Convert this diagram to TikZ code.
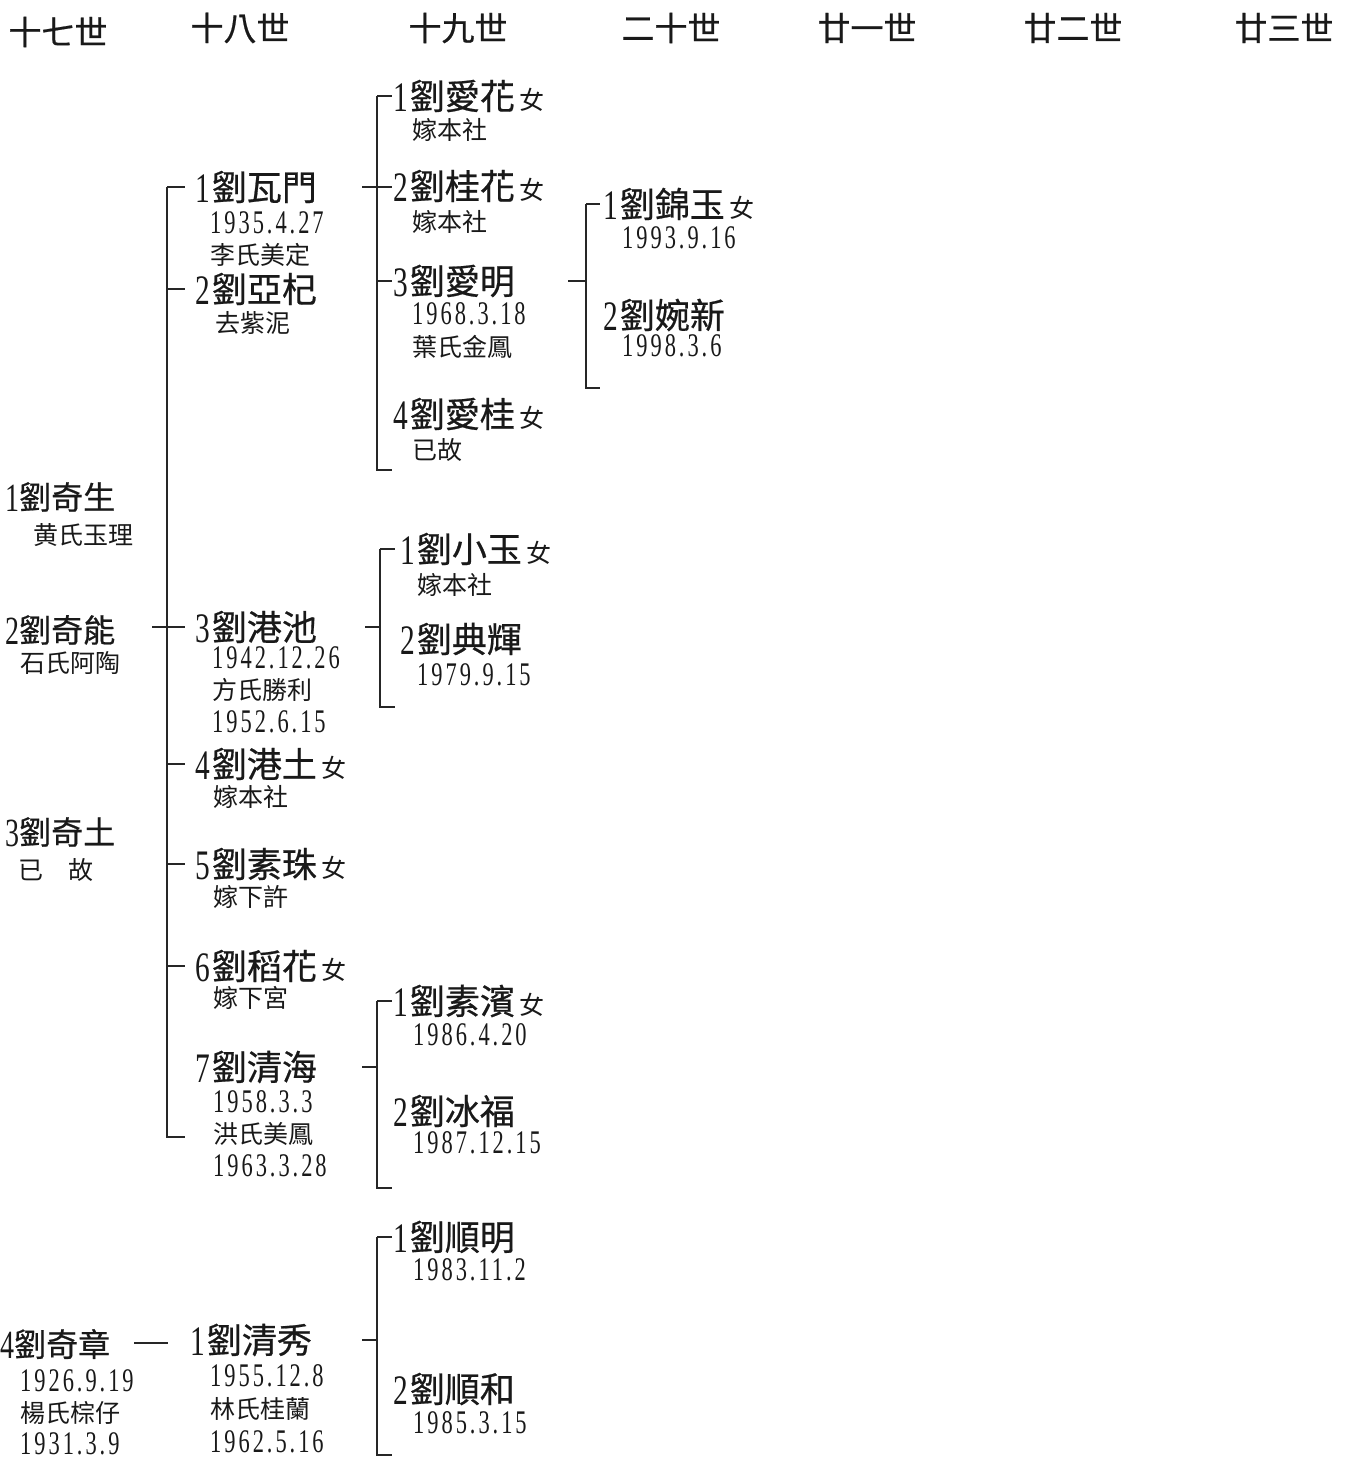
\documentclass[tikz,border=0pt]{standalone}
\usepackage{fontspec}
\usetikzlibrary{calc}
\newfontfamily\cjk{Noto Sans CJK TC}
\newfontfamily\cjkb[FakeBold=0.6]{Noto Sans CJK TC}
\newfontfamily\numf[FakeStretch=0.7]{Liberation Serif}
\newfontfamily\datef[FakeStretch=0.68,LetterSpace=9]{Liberation Serif}
\newcommand\ghead[1]{{\cjkb\fontsize{33}{33}\selectfont #1}}
\newcommand\pname[2]{{\numf\fontsize{42}{42}\selectfont\raisebox{-2pt}{#1}}\hspace{2pt}{\cjkb\fontsize{35}{35}\selectfont #2}}
\newcommand\pnameS[2]{{\numf\fontsize{40}{40}\selectfont\raisebox{-2pt}{#1}}{\cjkb\fontsize{32}{32}\selectfont #2}}
\newcommand\fem{\hspace{5pt}{\cjk\fontsize{25}{25}\selectfont 女}}
\newcommand\subtx[1]{{\cjk\fontsize{25}{25}\selectfont #1}}
\newcommand\pdate[1]{{\datef\fontsize{33}{33}\selectfont #1}}
\tikzset{
  tx/.style={inner sep=0pt, anchor=west, text=black!90},
  hd/.style={inner sep=0pt, anchor=center, text=black!90},
  ln/.style={line width=1.6pt, draw=black!85}
}
\begin{document}
\begin{tikzpicture}[x=1pt,y=-1pt]
\useasboundingbox[fill=white] (0,0) rectangle (1354,1460);
% headers
\node[hd] (h17) at (58,32) {\ghead{十七世}};
\node[hd] (h18) at (240,28) {\ghead{十八世}};
\node[hd] (h19) at (458,28) {\ghead{十九世}};
\node[hd] (h20) at (671,28) {\ghead{二十世}};
\node[hd] (h21) at (867,28) {\ghead{廿一世}};
\node[hd] (h22) at (1073,28) {\ghead{廿二世}};
\node[hd] (h23) at (1284,28) {\ghead{廿三世}};
% generation 17
\node[tx] (a1) at (5,497) {\pnameS{1}{劉奇生}};
\node[tx] (a1s) at (33,535) {\subtx{黄氏玉理}};
\node[tx] (a2) at (5,630) {\pnameS{2}{劉奇能}};
\node[tx] (a2s) at (20,663) {\subtx{石氏阿陶}};
\node[tx] (a3) at (5,832) {\pnameS{3}{劉奇土}};
\node[tx] (a3s) at (18,870) {\subtx{已　故}};
\node[tx] (a4) at (0,1344) {\pnameS{4}{劉奇章}};
\node[tx] (a4d) at (20,1381) {\pdate{1926.9.19}};
\node[tx] (a4s) at (20,1413) {\subtx{楊氏棕仔}};
\node[tx] (a4e) at (20,1444) {\pdate{1931.3.9}};
% generation 18
\node[tx] (b1) at (195,187) {\pname{1}{劉瓦門}};
\node[tx] (b1d) at (210,223) {\pdate{1935.4.27}};
\node[tx] (b1s) at (210,255) {\subtx{李氏美定}};
\node[tx] (b2) at (195,289) {\pname{2}{劉亞杞}};
\node[tx] (b2s) at (215,323) {\subtx{去紫泥}};
\node[tx] (b3) at (195,627) {\pname{3}{劉港池}};
\node[tx] (b3d) at (212,658) {\pdate{1942.12.26}};
\node[tx] (b3s) at (212,690) {\subtx{方氏勝利}};
\node[tx] (b3e) at (212,722) {\pdate{1952.6.15}};
\node[tx] (b4) at (195,764) {\pname{4}{劉港土}\fem};
\node[tx] (b4s) at (213,797) {\subtx{嫁本社}};
\node[tx] (b5) at (195,864) {\pname{5}{劉素珠}\fem};
\node[tx] (b5s) at (213,897) {\subtx{嫁下許}};
\node[tx] (b6) at (195,966) {\pname{6}{劉稻花}\fem};
\node[tx] (b6s) at (213,998) {\subtx{嫁下宮}};
\node[tx] (b7) at (195,1067) {\pname{7}{劉清海}};
\node[tx] (b7d) at (213,1102) {\pdate{1958.3.3}};
\node[tx] (b7s) at (213,1134) {\subtx{洪氏美鳳}};
\node[tx] (b7e) at (213,1166) {\pdate{1963.3.28}};
\node[tx] (c1) at (190,1340) {\pname{1}{劉清秀}};
\node[tx] (c1d) at (210,1376) {\pdate{1955.12.8}};
\node[tx] (c1s) at (210,1409) {\subtx{林氏桂蘭}};
\node[tx] (c1e) at (210,1442) {\pdate{1962.5.16}};
% generation 19
\node[tx] (d1) at (393,96) {\pname{1}{劉愛花}\fem};
\node[tx] (d1s) at (412,130) {\subtx{嫁本社}};
\node[tx] (d2) at (393,186) {\pname{2}{劉桂花}\fem};
\node[tx] (d2s) at (412,222) {\subtx{嫁本社}};
\node[tx] (d3) at (393,281) {\pname{3}{劉愛明}};
\node[tx] (d3d) at (412,314) {\pdate{1968.3.18}};
\node[tx] (d3s) at (412,347) {\subtx{葉氏金鳳}};
\node[tx] (d4) at (393,414) {\pname{4}{劉愛桂}\fem};
\node[tx] (d4s) at (412,450) {\subtx{已故}};
\node[tx] (e1) at (400,549) {\pname{1}{劉小玉}\fem};
\node[tx] (e1s) at (417,585) {\subtx{嫁本社}};
\node[tx] (e2) at (400,639) {\pname{2}{劉典輝}};
\node[tx] (e2d) at (417,675) {\pdate{1979.9.15}};
\node[tx] (f1) at (393,1001) {\pname{1}{劉素濱}\fem};
\node[tx] (f1d) at (413,1035) {\pdate{1986.4.20}};
\node[tx] (f2) at (393,1111) {\pname{2}{劉冰福}};
\node[tx] (f2d) at (413,1143) {\pdate{1987.12.15}};
\node[tx] (g1) at (393,1237) {\pname{1}{劉順明}};
\node[tx] (g1d) at (413,1270) {\pdate{1983.11.2}};
\node[tx] (g2) at (393,1389) {\pname{2}{劉順和}};
\node[tx] (g2d) at (413,1423) {\pdate{1985.3.15}};
% generation 20
\node[tx] (k1) at (603,204) {\pname{1}{劉錦玉}\fem};
\node[tx] (k1d) at (622,238) {\pdate{1993.9.16}};
\node[tx] (k2) at (603,315) {\pname{2}{劉婉新}};
\node[tx] (k2d) at (622,346) {\pdate{1998.3.6}};
% bracket x positions and bottoms
\coordinate (x18) at (167,0);
\coordinate (b18) at (167,1137);
\coordinate (xA) at (377,0);
\coordinate (bA) at (377,470);
\coordinate (xB) at (586,0);
\coordinate (bB) at (586,388);
\coordinate (xC) at (380,0);
\coordinate (bC) at (380,707);
\coordinate (xD) at (377,0);
\coordinate (bD) at (377,1188);
\coordinate (xE) at (377,0);
\coordinate (bE) at (377,1455);
% gen 18 bracket (children of 2劉奇能)
\draw[ln] (x18 |- b1.west) -- (b18) -- ++(18,0);
\foreach \n in {b1,b2,b4,b5,b6} \draw[ln] (x18 |- \n.west) -- ++(18,0);
\draw[ln] (x18 |- b3.west) ++(-15,0) -- ++(33,0);
% bracket A (children of 1劉瓦門)
\draw[ln] (xA |- d1.west) -- (bA) -- ++(15,0);
\foreach \n in {d1,d3} \draw[ln] (xA |- \n.west) -- ++(15,0);
\draw[ln] (xA |- b1.west) ++(-15,0) -- ++(30,0);
% bracket B (children of 3劉愛明)
\draw[ln] (xB |- k1.west) -- (bB) -- ++(14,0);
\draw[ln] (xB |- k1.west) -- ++(14,0);
\draw[ln] (xB |- d3.west) ++(-18,0) -- ++(18,0);
% bracket C (children of 3劉港池)
\draw[ln] (xC |- e1.west) -- (bC) -- ++(15,0);
\draw[ln] (xC |- e1.west) -- ++(15,0);
\draw[ln] (xC |- b3.west) ++(-15,0) -- ++(15,0);
% bracket D (children of 7劉清海)
\draw[ln] (xD |- f1.west) -- (bD) -- ++(15,0);
\draw[ln] (xD |- f1.west) -- ++(15,0);
\draw[ln] (xD |- b7.west) ++(-15,0) -- ++(15,0);
% bracket E (children of 1劉清秀)
\draw[ln] (xE |- g1.west) -- (bE) -- ++(15,0);
\draw[ln] (xE |- g1.west) -- ++(15,0);
\draw[ln] (xE |- c1.west) ++(-15,0) -- ++(15,0);
% 4劉奇章 -- 1劉清秀
\draw[ln] (a4.east) ++(24,-1) -- ++(34,0);
\end{tikzpicture}
\end{document}
